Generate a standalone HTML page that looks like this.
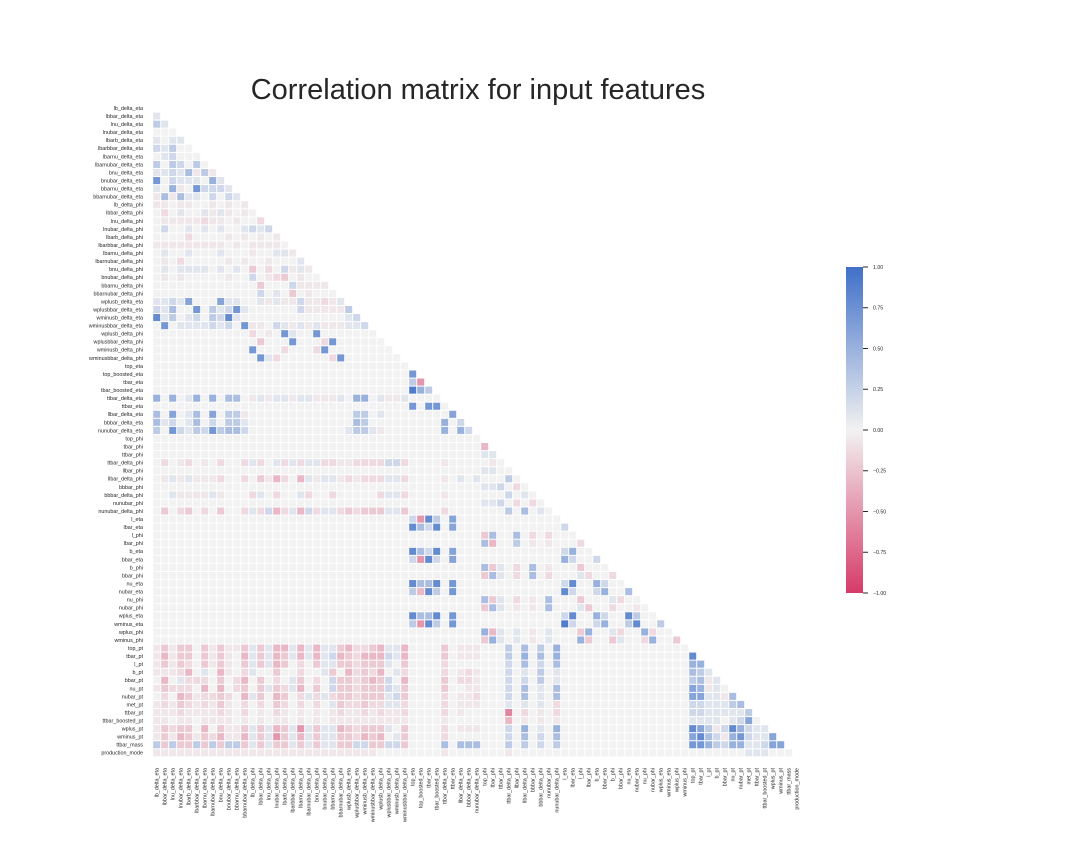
<!DOCTYPE html>
<html><head><meta charset="utf-8"><style>
html,body{margin:0;padding:0;background:#fff;}
svg{display:block;font-family:"Liberation Sans","DejaVu Sans",sans-serif;}
</style></head><body>
<svg id="chart" width="1080" height="864" viewBox="0 0 1080 864" xmlns="http://www.w3.org/2000/svg">
<defs><linearGradient id="cbg" x1="0" y1="0" x2="0" y2="1">
<stop offset="0" stop-color="rgb(64,112,200)"/><stop offset="0.5" stop-color="rgb(242,242,242)"/><stop offset="1" stop-color="rgb(214,58,104)"/></linearGradient></defs>
<text x="478" y="99" text-anchor="middle" font-size="29" fill="#262626">Correlation matrix for input features</text>
<g id="cells"></g>
<g id="ylabels"></g>
<g id="xlabels"></g>
<g id="cbar"></g>
</svg>
<script>
const features = ["lb_delta_eta","lbbar_delta_eta","lnu_delta_eta","lnubar_delta_eta","lbarb_delta_eta","lbarbbar_delta_eta","lbarnu_delta_eta","lbarnubar_delta_eta","bnu_delta_eta","bnubar_delta_eta","bbarnu_delta_eta","bbarnubar_delta_eta","lb_delta_phi","lbbar_delta_phi","lnu_delta_phi","lnubar_delta_phi","lbarb_delta_phi","lbarbbar_delta_phi","lbarnu_delta_phi","lbarnubar_delta_phi","bnu_delta_phi","bnubar_delta_phi","bbarnu_delta_phi","bbarnubar_delta_phi","wplusb_delta_eta","wplusbbar_delta_eta","wminusb_delta_eta","wminusbbar_delta_eta","wplusb_delta_phi","wplusbbar_delta_phi","wminusb_delta_phi","wminusbbar_delta_phi","top_eta","top_boosted_eta","tbar_eta","tbar_boosted_eta","ttbar_delta_eta","ttbar_eta","llbar_delta_eta","bbbar_delta_eta","nunubar_delta_eta","top_phi","tbar_phi","ttbar_phi","ttbar_delta_phi","llbar_phi","llbar_delta_phi","bbbar_phi","bbbar_delta_phi","nunubar_phi","nunubar_delta_phi","l_eta","lbar_eta","l_phi","lbar_phi","b_eta","bbar_eta","b_phi","bbar_phi","nu_eta","nubar_eta","nu_phi","nubar_phi","wplus_eta","wminus_eta","wplus_phi","wminus_phi","top_pt","tbar_pt","l_pt","b_pt","bbar_pt","nu_pt","nubar_pt","met_pt","ttbar_pt","ttbar_boosted_pt","wplus_pt","wminus_pt","ttbar_mass","production_mode"];
// value levels for codes
const levelCodes = [".","a","b","c","d","e","f","1","2","3","4","5","6","7","8","9"];
const levelValues = [0,-0.06,-0.13,-0.22,-0.32,-0.5,-0.6,0.1,0.2,0.3,0.4,0.5,0.6,0.7,0.8,0.9];
// dense row prefixes: row index -> codes starting at column 0
const denseRows = {
1:"1",2:"31",3:"...",4:"1.11",5:"213..",6:".12...",7:"3.32.3.",8:"11214a3a",9:"7.2111.51",10:"1.5a.72221",11:"a4a411.2.21",
12:"aa.aa..a.a.a",13:".b.1..1a1a.a.",14:".aaaaabaa.a..b",15:".2..1.1.1..1212",16:"....b....a.a.a.a",17:"aaaaaaaaa.a.aaaa.",
18:".1..1...1...a..11a",19:".a.b.....a.a..a...1",20:".1.1111.1.1.c.b.2a1a",21:".a.a.....a..2.abc.a..",22:".............c...2aaaa",
23:".............2.1.c.a...",24:"11216...611..1a1aa2aaba1",25:"214..7.31271......2aaaaa3",26:"813.12.3281.............12",
27:".7.1111212.7aa.21a1a1aaa112",
36:"5.5.15.5.44.a1a11a11aaa1.55.1aa1....",
38:"4.6.14.6.33a.............33.1........6.",
39:"412.14.2.331.............43.........5.2",
40:"3.7213273442............133 1a.......5.52".replace(" ",""),
44:".b.ab.a.b..b1b.1b1b11bbaabbbb22b....a.....a.",
46:".a1a1aaab..b.cadb.d1a11ababbb11b....a.1.1...3.",
48:"..1aaaa1a...b1.b..1b..b.....b11b....a.......2.1.",
50:".c.bc.b.c..b1b2db1d2b11bcbccc11c....b.......3.4.1.",
67:"acacc.cacaac1c1dd1d1d11cdbb"+"cd11d....c.aaa...3.4.3.5....",
68:"adacc.caca.d1c1dc1d1d12dcbd"+"dd21d....c.aaa...3.5.4.5...."+"............"+"8",
69:"acacb.caca.c1c1dc.b.c11ccbc"+"cc1.c....b.......2.4.2.4...."+"............"+"55",
70:"aaabd.1.da.b1..c..b..1c.dbc"+"bd.1b....b.aba...2.1.3.1...."+"............"+"431",
71:".d.1bbb.c.bd.c.b.1c.b.2ccbc"+"dc2.d....c.bba...2.2.3.1...."+"............"+"34a1",
72:"acbbb.d.d.bc.c1cb1d.c.2ccbc"+"cc21c....c..aa...2.4.1.4...."+"............"+"65a1",
73:".b.dcabbcb.d1c.dc.b1b1bccbc"+"cc12c....b.aab...2.4.1.4...."+"............"+"6611a4",
74:"abacbabaca.b.b.cb.b.b.1cbbc"+"bb11b....b.aaa...1.1.1.b...."+"............"+"2211134",
75:"aaabaaaaba.b.a.ba.a.a.abaab"+"abaab....b.a.....f.b.a.b...."+"............"+"22111113",
76:"aa.aa.aaaa.a.a.aa.a.a.aaaaa"+"aaaaa....a.......d.a.a.a...."+"............"+"1111.126",
77:"acbcc.d.caac1c1dc1e1c11dcbc"+"cc1.c....b.aaa...2.5.1.5...."+"............"+"863a285211",
78:"acadcacbdaad1c1ec1d1c11ccbd"+"cd.1c....b.......2.4.2.4...."+"............"+"6842a572116",
79:"3c3cc3c3c33c1c1cc1c1c11cc22"+"cc22c....4.444...3.3.2.3...."+"............"+"775325511266",
80:"aaaaaaaaaaaaaaaaaaaaaaaaaaa"+"a........a.......a.........."+"............"+".......111..."
};
// sparse cells: "row:col:code"
const sparseCells = ["28:12:b","28:14:a","28:16:7","28:17:1","28:20:7","29:13:c","29:17:7","29:21:b","29:22:7","30:12:7","30:16:b","30:20:b","30:21:7","31:13:7","31:14:1","31:15:b","31:22:b","31:23:7",
"33:32:7","34:32:3","34:33:e","35:32:9","35:33:5","35:34:3","37:32:7","37:34:7","37:35:7","42:41:d","43:41:1","43:42:1","45:41:1","45:42:1","47:41:1","47:42:1","47:43:2","47:45:b","49:41:1","49:42:1","49:43:2","49:45:b","49:47:b",
"51:32:2","51:33:e","51:34:8","51:35:3","51:37:6","52:32:8","52:33:4","52:34:2","52:35:8","52:37:6","52:51:2",
"53:41:c","53:42:4","53:45:4","53:47:b","53:49:b","54:41:4","54:42:d","54:45:3","54:47:a","54:49:a","54:53:b",
"55:32:8","55:33:4","55:34:2","55:35:8","55:37:6","55:51:2","55:52:5","56:32:2","56:33:e","56:34:8","56:35:2","56:37:6","56:51:5","56:52:2","56:55:2",
"57:41:4","57:42:c","57:43:1","57:45:b","57:47:4","57:49:a","57:53:c","58:41:c","58:42:4","58:43:1","58:45:b","58:47:4","58:49:b","58:53:1","58:54:b","58:57:b",
"59:32:8","59:33:4","59:34:4","59:35:8","59:37:7","59:51:2","59:52:8","59:55:5","59:56:2","60:32:3","60:33:d","60:34:8","60:35:3","60:37:7","60:51:8","60:52:2","60:55:2","60:56:5","60:59:4",
"61:41:4","61:42:c","61:43:1","61:45:b","61:47:a","61:49:4","61:53:c","61:57:1","61:58:b","62:41:c","62:42:4","62:43:1","62:45:a","62:47:a","62:49:4","62:53:1","62:54:c","62:57:b","62:60:a",
"63:32:8","63:33:4","63:34:4","63:35:8","63:37:7","63:51:2","63:52:8","63:55:5","63:56:2","63:59:8","63:60:3",
"64:32:3","64:33:e","64:34:8","64:35:3","64:37:7","64:51:9","64:52:2","64:55:2","64:56:5","64:59:3","64:60:8","64:63:3",
"65:41:5","65:42:d","65:43:1","65:45:1","65:47:a","65:49:1","65:53:c","65:54:5","65:57:1","65:58:b","65:61:5","65:62:b",
"66:41:c","66:42:5","66:43:1","66:45:1","66:47:a","66:49:1","66:53:5","66:54:c","66:57:c","66:58:1","66:61:b","66:62:5","66:65:c"];
const cbTicks = [1,0.75,0.5,0.25,0,-0.25,-0.5,-0.75,-1];
const cbTickLabels = ["1.00","0.75","0.50","0.25","0.00","\u22120.25","\u22120.50","\u22120.75","\u22121.00"];

const NS="http://www.w3.org/2000/svg";
const n=features.length;
const gx0=152.7, cw=8.0, gy0=104, ch=8.06;
const xPos=c=>gx0+c*cw, yPos=r=>gy0+r*ch;
function codeVal(ch){const i=levelCodes.indexOf(ch);return i<0?0:levelValues[i];}
const M=[];for(let r=0;r<n;r++){M.push(new Array(r).fill(0));}
for(const k in denseRows){const r=+k,s=denseRows[k];for(let c=0;c<s.length&&c<r;c++)M[r][c]=codeVal(s[c]);}
sparseCells.forEach(e=>{const p=e.split(":");const r=+p[0],c=+p[1];if(c<r)M[r][c]=codeVal(p[2]);});
function color(v){v=Math.max(-1,Math.min(1,v));const g=[242,242,242],pos=[64,112,200],neg=[214,58,104];const t=Math.abs(v),e=v>=0?pos:neg;
return "rgb("+g.map((x,i)=>Math.round(x+(e[i]-x)*t)).join(",")+")";}
const cells=document.getElementById("cells");
for(let r=1;r<n;r++)for(let c=0;c<r;c++){const rc=document.createElementNS(NS,"rect");
rc.setAttribute("x",(xPos(c)+0.5).toFixed(2));rc.setAttribute("y",(yPos(r)+0.5).toFixed(2));
rc.setAttribute("width",cw-1);rc.setAttribute("height",(ch-1).toFixed(2));rc.setAttribute("fill",color(M[r][c]));


cells.appendChild(rc);}
const yl=document.getElementById("ylabels"),xl=document.getElementById("xlabels");
features.forEach((f,i)=>{const t=document.createElementNS(NS,"text");t.setAttribute("x",143);t.setAttribute("y",(yPos(i)+ch/2+1.9).toFixed(2));
t.setAttribute("text-anchor","end");t.setAttribute("font-size","5.4");t.setAttribute("fill","#262626");t.textContent=f;


yl.appendChild(t);
const u=document.createElementNS(NS,"text");const cx=xPos(i)+cw/2+1.9;
u.setAttribute("transform","translate("+cx.toFixed(2)+",768) rotate(-90)");u.setAttribute("text-anchor","end");u.setAttribute("font-size","5.4");u.setAttribute("fill","#262626");u.textContent=f;


xl.appendChild(u);});
const cb=document.getElementById("cbar");const cbx=846,cby=267,cbw=17,cbh=326;
const bar=document.createElementNS(NS,"rect");bar.setAttribute("x",cbx);bar.setAttribute("y",cby);bar.setAttribute("width",cbw);bar.setAttribute("height",cbh);bar.setAttribute("fill","url(#cbg)");


cb.appendChild(bar);
cbTicks.forEach((v,i)=>{const y=cby+(1-v)/2*cbh;const l=document.createElementNS(NS,"line");l.setAttribute("x1",cbx+cbw);l.setAttribute("x2",cbx+cbw+5);l.setAttribute("y1",y);l.setAttribute("y2",y);l.setAttribute("stroke","#262626");l.setAttribute("stroke-width","1");


cb.appendChild(l);
const t=document.createElementNS(NS,"text");t.setAttribute("x",cbx+cbw+10);t.setAttribute("y",y+1.8);t.setAttribute("font-size","5.2");t.setAttribute("fill","#262626");t.textContent=cbTickLabels[i];


cb.appendChild(t);});
</script>
</body></html>
